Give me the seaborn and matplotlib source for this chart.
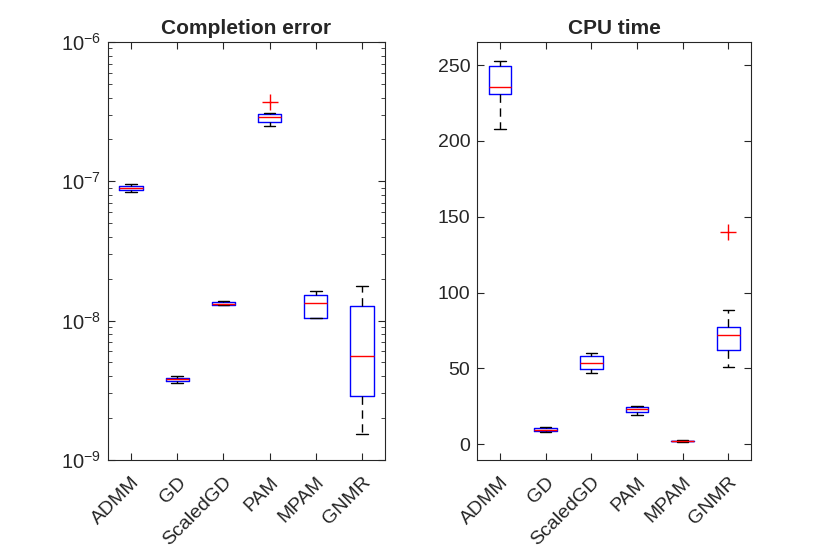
import pandas as pd
import numpy as np
import matplotlib
matplotlib.use("Agg")
import matplotlib.pyplot as plt
import matplotlib.transforms as mtransforms
import seaborn as sns

# 方法名称
methods = ['ADMM', 'GD', 'ScaledGD', 'PAM', 'MPAM', 'GNMR']

# Completion error，每个方法9次试验
err_admm = [8.4e-8, 8.6e-8, 8.7e-8, 8.85e-8, 9.0e-8, 9.15e-8, 9.27e-8, 9.45e-8, 9.6e-8]
err_gd = [3.58e-9, 3.63e-9, 3.67e-9, 3.72e-9, 3.78e-9, 3.84e-9, 3.89e-9, 3.95e-9, 4.02e-9]
err_scaledgd = [1.29e-8, 1.295e-8, 1.30e-8, 1.31e-8, 1.325e-8, 1.345e-8, 1.36e-8, 1.37e-8, 1.375e-8]
err_pam = [2.48e-7, 2.6e-7, 2.67e-7, 2.8e-7, 2.89e-7, 2.98e-7, 3.05e-7, 3.1e-7, 3.71e-7]
err_mpam = [1.04e-8, 1.04e-8, 1.045e-8, 1.2e-8, 1.335e-8, 1.45e-8, 1.52e-8, 1.6e-8, 1.64e-8]
err_gnmr = [1.53e-9, 2.2e-9, 2.86e-9, 4.5e-9, 5.57e-9, 8.5e-9, 1.27e-8, 1.6e-8, 1.78e-8]

# CPU time
cpu_admm = [207.6, 225.0, 231.3, 233.5, 235.7, 242.0, 249.3, 251.0, 252.6]
cpu_gd = [8.1, 8.5, 8.8, 9.2, 9.6, 10.3, 11.0, 11.3, 11.6]
cpu_scaledgd = [47.2, 48.5, 49.4, 51.5, 53.8, 56.0, 58.0, 59.0, 60.0]
cpu_pam = [19.5, 20.8, 21.5, 22.6, 23.5, 24.1, 24.6, 25.0, 25.4]
cpu_mpam = [1.6, 1.8, 1.9, 2.0, 2.2, 2.3, 2.4, 2.5, 2.6]
cpu_gnmr = [51.1, 57.0, 62.1, 67.0, 71.8, 74.5, 77.1, 88.3, 139.7]

err_all = [err_admm, err_gd, err_scaledgd, err_pam, err_mpam, err_gnmr]
cpu_all = [cpu_admm, cpu_gd, cpu_scaledgd, cpu_pam, cpu_mpam, cpu_gnmr]

rows = []
for m, e, c in zip(methods, err_all, cpu_all):
    for ei, ci in zip(e, c):
        rows.append({'method': m, 'err': ei, 'cpu': ci})
data = pd.DataFrame(rows)

sns.set_style('white')
plt.rcParams['font.family'] = ['Liberation Sans', 'DejaVu Sans']
plt.rcParams['mathtext.fontset'] = 'custom'
plt.rcParams['mathtext.rm'] = 'Liberation Sans'

fig = plt.figure(figsize=(8.3, 5.54), dpi=100)
ax1 = fig.add_axes([0.130, 0.170, 0.334, 0.754])
ax2 = fig.add_axes([0.575, 0.170, 0.330, 0.754])

box_kws = dict(
    width=0.5, whis=1.5, fill=False, linewidth=1.0,
    boxprops=dict(color='blue', linewidth=1.0),
    medianprops=dict(color='red', linewidth=1.0),
    whiskerprops=dict(color='black', linestyle=(0, (6, 4)), linewidth=1.0),
    capprops=dict(color='black', linewidth=1.0),
    flierprops=dict(marker='+', markeredgecolor='red', markersize=11, markeredgewidth=1.0),
)

sns.boxplot(data=data, x='method', y='err', order=methods, ax=ax1, **box_kws)
sns.boxplot(data=data, x='method', y='cpu', order=methods, ax=ax2, **box_kws)

ax1.set_yscale('log')
ax1.set_ylim(1e-9, 1e-6)
ax2.set_ylim(-10.3, 265.2)
ax2.set_yticks([0, 50, 100, 150, 200, 250])
ax2.minorticks_off()

ax1.set_title('Completion error', fontsize=15, fontweight='bold', pad=6)
ax2.set_title('CPU time', fontsize=15, fontweight='bold', pad=6)

# x轴标签：斜45度，稍微往右下放
shift = mtransforms.ScaledTranslation(0.06, -0.20, fig.dpi_scale_trans)

for ax in (ax1, ax2):
    ax.set_xlim(-0.5, 5.5)
    ax.set_xlabel('')
    ax.set_ylabel('')
    ax.set_xticks(range(len(methods)))
    ax.tick_params(axis='x', labelbottom=False)
    trans = mtransforms.blended_transform_factory(ax.transData, ax.transAxes) + shift
    for i, m in enumerate(methods):
        ax.text(i, 0, m, transform=trans, rotation=45, ha='right', va='center',
                rotation_mode='anchor', fontsize=14, color='#262626')
    ax.tick_params(axis='both', which='major', direction='in', length=5, width=0.8,
                   left=True, bottom=True, top=True, right=True,
                   colors='#262626')
    ax.tick_params(axis='y', labelsize=14, pad=5)
    ax.tick_params(axis='y', which='minor', direction='in', length=3, width=0.6,
                   left=True, right=True, colors='#262626')
    for s in ax.spines.values():
        s.set_color('#262626')
        s.set_linewidth(0.8)

ax1.tick_params(axis='y', labelsize=14.5)

plt.savefig('out.png', dpi=100)
